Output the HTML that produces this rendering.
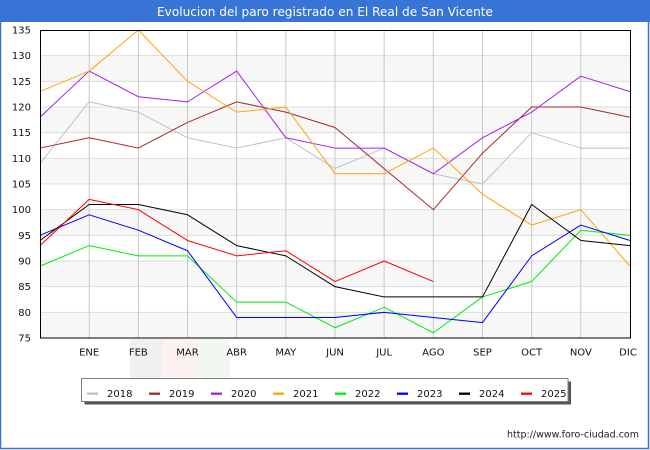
<!DOCTYPE html>
<html><head><meta charset="utf-8"><style>
html,body{margin:0;padding:0;background:#fff;}
svg{display:block;}
text{font-family:"DejaVu Sans","Liberation Sans",sans-serif;}
</style></head><body>
<svg width="650" height="450" viewBox="0 0 650 450" xmlns="http://www.w3.org/2000/svg">
<rect x="0" y="0" width="650" height="450" fill="#fff"/>
<!-- border -->
<rect x="0.5" y="0.5" width="648" height="448" fill="none" stroke="#3873d6" stroke-width="1.5"/>
<rect x="0" y="0" width="650" height="22" fill="#3873d6"/>
<text x="325" y="16" font-size="12" fill="#fff" text-anchor="middle" textLength="336" lengthAdjust="spacingAndGlyphs">Evolucion del paro registrado en El Real de San Vicente</text>

<!-- watermark flag -->
<rect x="130" y="339" width="33" height="60" fill="#f0f0f0"/>
<rect x="163" y="339" width="34" height="60" fill="#fdf1f1"/>
<rect x="197" y="339" width="33" height="60" fill="#f0f8f0"/>

<!-- plot bg bands -->
<rect x="40" y="30" width="590" height="308" fill="#fff"/>
<g fill="#f7f7f7">
<rect x="40" y="55.67" width="590" height="25.67"/>
<rect x="40" y="107" width="590" height="25.67"/>
<rect x="40" y="158.33" width="590" height="25.67"/>
<rect x="40" y="209.67" width="590" height="25.67"/>
<rect x="40" y="261" width="590" height="25.67"/>
<rect x="40" y="312.33" width="590" height="25.67"/>
</g>
<!-- horizontal grid -->
<g stroke="#dcdcdc" stroke-width="1">
<line x1="40" x2="630" y1="55.67" y2="55.67"/>
<line x1="40" x2="630" y1="81.33" y2="81.33"/>
<line x1="40" x2="630" y1="107" y2="107"/>
<line x1="40" x2="630" y1="132.67" y2="132.67"/>
<line x1="40" x2="630" y1="158.33" y2="158.33"/>
<line x1="40" x2="630" y1="184" y2="184"/>
<line x1="40" x2="630" y1="209.67" y2="209.67"/>
<line x1="40" x2="630" y1="235.33" y2="235.33"/>
<line x1="40" x2="630" y1="261" y2="261"/>
<line x1="40" x2="630" y1="286.67" y2="286.67"/>
<line x1="40" x2="630" y1="312.33" y2="312.33"/>
</g>
<!-- vertical grid -->
<g stroke="#c8c8c8" stroke-width="1">
<line x1="89.17" x2="89.17" y1="30" y2="338"/>
<line x1="138.33" x2="138.33" y1="30" y2="338"/>
<line x1="187.5" x2="187.5" y1="30" y2="338"/>
<line x1="236.67" x2="236.67" y1="30" y2="338"/>
<line x1="285.83" x2="285.83" y1="30" y2="338"/>
<line x1="335" x2="335" y1="30" y2="338"/>
<line x1="384.17" x2="384.17" y1="30" y2="338"/>
<line x1="433.33" x2="433.33" y1="30" y2="338"/>
<line x1="482.5" x2="482.5" y1="30" y2="338"/>
<line x1="531.67" x2="531.67" y1="30" y2="338"/>
<line x1="580.83" x2="580.83" y1="30" y2="338"/>
</g>

<!-- series -->
<g fill="none" stroke-width="1" stroke-linejoin="round" transform="matrix(49.1667 0 0 -5.13333 40 723)">
<polyline vector-effect="non-scaling-stroke" stroke="#c0c0c0" points="0,109 1,121 2,119 3,114 4,112 5,114 6,108 7,112 8,107 9,105 10,115 11,112 12,112"/>
<polyline vector-effect="non-scaling-stroke" stroke="#a52a2a" points="0,112 1,114 2,112 3,117 4,121 5,119 6,116 7,108 8,100 9,111 10,120 11,120 12,118"/>
<polyline vector-effect="non-scaling-stroke" stroke="#a020f0" points="0,118 1,127 2,122 3,121 4,127 5,114 6,112 7,112 8,107 9,114 10,119 11,126 12,123"/>
<polyline vector-effect="non-scaling-stroke" stroke="#ffa500" points="0,123 1,127 2,135 3,125 4,119 5,120 6,107 7,107 8,112 9,103 10,97 11,100 12,89"/>
<polyline vector-effect="non-scaling-stroke" stroke="#00ee00" points="0,89 1,93 2,91 3,91 4,82 5,82 6,77 7,81 8,76 9,83 10,86 11,96 12,95"/>
<polyline vector-effect="non-scaling-stroke" stroke="#0000ff" points="0,95 1,99 2,96 3,92 4,79 5,79 6,79 7,80 8,79 9,78 10,91 11,97 12,94"/>
<polyline vector-effect="non-scaling-stroke" stroke="#000000" points="0,94 1,101 2,101 3,99 4,93 5,91 6,85 7,83 8,83 9,83 10,101 11,94 12,93"/>
<polyline vector-effect="non-scaling-stroke" stroke="#ff0000" points="0,93 1,102 2,100 3,94 4,91 5,92 6,86 7,90 8,86"/>
</g>

<!-- frame -->
<rect x="40.5" y="30.5" width="590" height="307.5" fill="none" stroke="#000" stroke-width="1"/>

<!-- y labels -->
<g font-size="10" fill="#111" text-anchor="end">
<text x="31" y="33.5">135</text>
<text x="31" y="59.2">130</text>
<text x="31" y="84.8">125</text>
<text x="31" y="110.5">120</text>
<text x="31" y="136.2">115</text>
<text x="31" y="161.8">110</text>
<text x="31" y="187.5">105</text>
<text x="31" y="213.2">100</text>
<text x="31" y="238.8">95</text>
<text x="31" y="264.5">90</text>
<text x="31" y="290.2">85</text>
<text x="31" y="315.8">80</text>
<text x="31" y="341.5">75</text>
</g>
<!-- x labels -->
<g font-size="10" fill="#111" text-anchor="middle">
<text x="89.17" y="355.5">ENE</text>
<text x="138.33" y="355.5">FEB</text>
<text x="187.5" y="355.5">MAR</text>
<text x="236.67" y="355.5">ABR</text>
<text x="285.83" y="355.5">MAY</text>
<text x="335" y="355.5">JUN</text>
<text x="384.17" y="355.5">JUL</text>
<text x="433.33" y="355.5">AGO</text>
<text x="482.5" y="355.5">SEP</text>
<text x="531.67" y="355.5">OCT</text>
<text x="580.83" y="355.5">NOV</text>
<text x="628" y="355.5">DIC</text>
</g>

<!-- legend -->
<rect x="84.5" y="381.5" width="486.5" height="23" fill="#555"/>
<rect x="81.5" y="378.5" width="486.5" height="23" fill="#fff" stroke="#808080" stroke-width="1"/>
<g stroke-width="2.3">
<line x1="87" x2="98" y1="393.7" y2="393.7" stroke="#c0c0c0"/>
<line x1="149" x2="160" y1="393.7" y2="393.7" stroke="#a52a2a"/>
<line x1="211" x2="222" y1="393.7" y2="393.7" stroke="#a020f0"/>
<line x1="273" x2="284" y1="393.7" y2="393.7" stroke="#ffa500"/>
<line x1="335" x2="346" y1="393.7" y2="393.7" stroke="#00ee00"/>
<line x1="397" x2="408" y1="393.7" y2="393.7" stroke="#0000ff"/>
<line x1="459" x2="470" y1="393.7" y2="393.7" stroke="#000"/>
<line x1="521" x2="532" y1="393.7" y2="393.7" stroke="#ff0000"/>
</g>
<g font-size="10" fill="#111">
<text x="107" y="396.8">2018</text>
<text x="169" y="396.8">2019</text>
<text x="231" y="396.8">2020</text>
<text x="293" y="396.8">2021</text>
<text x="355" y="396.8">2022</text>
<text x="417" y="396.8">2023</text>
<text x="479" y="396.8">2024</text>
<text x="541" y="396.8">2025</text>
</g>

<!-- footer -->
<text x="639" y="437.5" font-size="9.4" fill="#222" text-anchor="end" textLength="132" lengthAdjust="spacingAndGlyphs">http://www.foro-ciudad.com</text>
</svg>
</body></html>
